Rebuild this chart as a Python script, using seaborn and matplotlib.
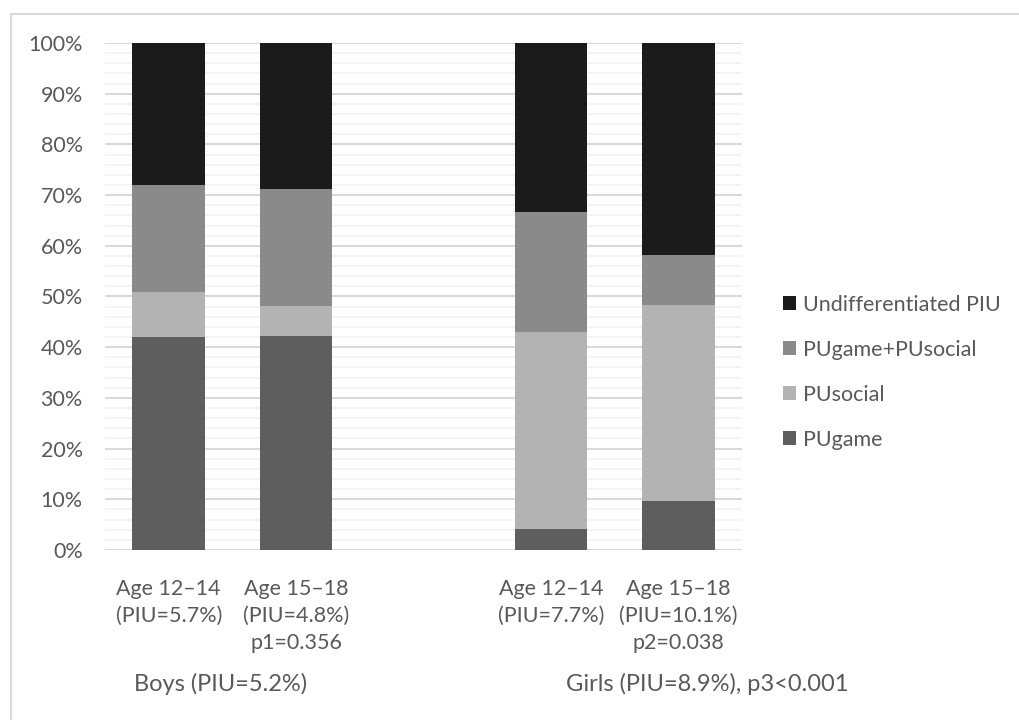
import matplotlib
matplotlib.use("Agg")
import matplotlib.pyplot as plt
from matplotlib.lines import Line2D
from matplotlib.patches import Patch
from matplotlib.ticker import MultipleLocator, FuncFormatter
import seaborn as sns
import pandas as pd
import numpy as np

# ---- data ----
categories = ["Age 12–14\n(PIU=5.7%)", "Age 15–18\n(PIU=4.8%)\np1=0.356",
              "Age 12–14\n(PIU=7.7%)", "Age 15–18\n(PIU=10.1%)\np2=0.038"]
gap_label = " "
pugame = [42.1, 42.3, 4.2, 9.7]
pusocial = [8.8, 5.9, 38.8, 38.7]
pugame_pusocial = [21.1, 23.0, 23.7, 9.8]
undifferentiated = [28.0, 28.8, 33.3, 41.8]
series_names = ["PUgame", "PUsocial", "PUgame+PUsocial", "Undifferentiated PIU"]
series_colors = ["#5e5e5e", "#b3b3b3", "#8a8a8a", "#1b1b1b"]
group_labels = ["Boys (PIU=5.2%)", "Girls (PIU=8.9%), p3<0.001"]

sns.set_theme(style="white")
plt.rcParams["font.family"] = ["Lato", "DejaVu Sans"]
TXT = "#595959"
FS = 15.5

order = [categories[0], categories[1], gap_label, categories[2], categories[3]]

df = pd.DataFrame({"cat": categories, "PUgame": pugame, "PUsocial": pusocial,
                   "PUgame+PUsocial": pugame_pusocial,
                   "Undifferentiated PIU": undifferentiated})
# cumulative tops for overlapped stacking
cum = df[series_names].cumsum(axis=1)

fig = plt.figure(figsize=(10.19, 7.2), dpi=100)
ax = fig.add_axes([105/1019, 1-550/720, (742-105)/1019, (550-43)/720])

for name, col in reversed(list(zip(series_names, series_colors))):
    sns.barplot(x=df["cat"], y=cum[name], order=order, color=col, ax=ax,
                width=0.57, saturation=1, edgecolor="none", zorder=3)

ax.set_ylim(0, 100)
ax.set_xlim(-0.5, 4.5)
ax.yaxis.set_major_locator(MultipleLocator(10))
ax.yaxis.set_minor_locator(MultipleLocator(2))
ax.yaxis.set_major_formatter(FuncFormatter(lambda v, p: f"{v:.0f}%"))
ax.grid(which="minor", axis="y", color="#f2f2f2", lw=1.2, zorder=0)
ax.grid(which="major", axis="y", color="#d9d9d9", lw=1.5, zorder=1)
ax.set_axisbelow(True)
for s in ax.spines.values():
    s.set_visible(False)
ax.set_xlabel("")
ax.set_ylabel("")
ax.tick_params(axis="both", which="both", length=0, colors=TXT, labelsize=FS)
ax.tick_params(axis="y", pad=16)
ax.tick_params(axis="x", pad=21)
for lbl in ax.get_xticklabels():
    lbl.set_linespacing(1.42)
    lbl.set_verticalalignment("top")

# group labels
fig.text(221/1019, 1-684/720, group_labels[0], ha="center", va="center",
         color=TXT, fontsize=17)
fig.text(707/1019, 1-684/720, group_labels[1], ha="center", va="center",
         color=TXT, fontsize=17)

# legend
handles = [Patch(facecolor=c, edgecolor="none") for c in series_colors]
leg = fig.legend(handles[::-1], series_names[::-1], loc="upper left",
                 bbox_to_anchor=(774/1019, 1-286/720), frameon=False,
                 fontsize=FS, labelcolor=TXT, handlelength=0.63,
                 handleheight=0.63, handletextpad=0.3, labelspacing=1.16,
                 borderaxespad=0)

# chart border
fig.add_artist(Line2D([11/1019, 11/1019], [0, 1-14/720], color="#d9d9d9", lw=1.5))
fig.add_artist(Line2D([11/1019, 1], [1-14/720, 1-14/720], color="#d9d9d9", lw=1.5))

fig.savefig("out.png", dpi=100, facecolor="white")
